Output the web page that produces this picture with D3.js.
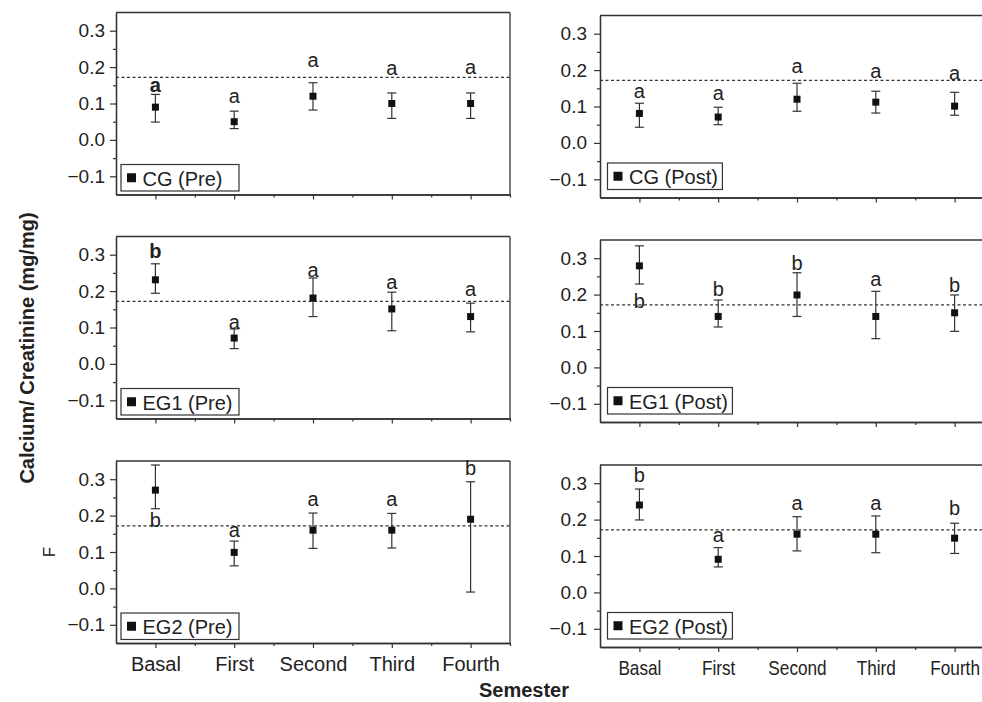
<!DOCTYPE html>
<html><head><meta charset="utf-8">
<script src="https://cdn.jsdelivr.net/npm/d3@7"></script>
<style>
html,body{margin:0;padding:0;background:#fff;}
svg{display:block;font-family:"Liberation Sans",Arial,sans-serif;}
</style></head>
<body>
<svg id="chart" width="982" height="702"></svg>
<script>
// ---------- data ----------
const categories = ["Basal", "First", "Second", "Third", "Fourth"];
const yTicks = [-0.1, 0.0, 0.1, 0.2, 0.3];
const yMinorTicks = [-0.15, -0.05, 0.05, 0.15, 0.25];
const referenceValue = 0.172;

const cgPreMean    = [0.090, 0.050, 0.120, 0.100, 0.100];
const cgPreUpper   = [0.125, 0.079, 0.157, 0.129, 0.129];
const cgPreLower   = [0.049, 0.031, 0.082, 0.059, 0.059];
const cgPreLetter  = ["a", "a", "a", "a", "a"];
const cgPreLetterAt= [0.132, 0.102, 0.199, 0.177, 0.181];

const cgPostMean    = [0.081, 0.071, 0.120, 0.112, 0.101];
const cgPostUpper   = [0.109, 0.098, 0.164, 0.142, 0.139];
const cgPostLower   = [0.043, 0.050, 0.087, 0.082, 0.076];
const cgPostLetter  = ["a", "a", "a", "a", "a"];
const cgPostLetterAt= [0.124, 0.119, 0.191, 0.179, 0.172];

const eg1PreMean    = [0.231, 0.071, 0.181, 0.151, 0.130];
const eg1PreUpper   = [0.275, 0.096, 0.236, 0.197, 0.167];
const eg1PreLower   = [0.194, 0.042, 0.130, 0.091, 0.088];
const eg1PreLetter  = ["b", "a", "a", "a", "a"];
const eg1PreLetterAt= [0.291, 0.097, 0.238, 0.205, 0.187];

const eg1PostMean    = [0.279, 0.140, 0.199, 0.140, 0.150];
const eg1PostUpper   = [0.334, 0.185, 0.260, 0.209, 0.199];
const eg1PostLower   = [0.229, 0.111, 0.140, 0.079, 0.099];
const eg1PostLetter  = ["b", "b", "b", "a", "b"];
const eg1PostLetterAt= [0.162, 0.196, 0.267, 0.224, 0.207];

const eg2PreMean    = [0.270, 0.099, 0.160, 0.160, 0.190];
const eg2PreUpper   = [0.339, 0.130, 0.207, 0.206, 0.293];
const eg2PreLower   = [0.219, 0.062, 0.110, 0.111, -0.010];
const eg2PreLetter  = ["b", "a", "a", "a", "b"];
const eg2PreLetterAt= [0.169, 0.140, 0.226, 0.226, 0.311];

const eg2PostMean    = [0.240, 0.091, 0.160, 0.160, 0.149];
const eg2PostUpper   = [0.284, 0.123, 0.208, 0.210, 0.190];
const eg2PostLower   = [0.199, 0.070, 0.114, 0.109, 0.107];
const eg2PostLetter  = ["b", "a", "a", "a", "b"];
const eg2PostLetterAt= [0.304, 0.139, 0.227, 0.227, 0.213];

const panelNames = ["CG (Pre)", "CG (Post)", "EG1 (Pre)", "EG1 (Post)", "EG2 (Pre)", "EG2 (Post)"];
const boldLetter = [[0], [], [0], [], [], []]; // letters printed heavier in the original

// ---------- layout ----------
const svg = d3.select("#chart");
const TXT = "#222", AX = "#333";
const colX = [[116, 510], [600, 994]];
const rowTops = [[12.5, 236.5, 461], [15.5, 240, 465]];
const panelH = 182;
const colTextScale = [1, 0.86];

const panels = [
  {name: panelNames[0], mean: cgPreMean, up: cgPreUpper, lo: cgPreLower, let: cgPreLetter, letAt: cgPreLetterAt},
  {name: panelNames[1], mean: cgPostMean, up: cgPostUpper, lo: cgPostLower, let: cgPostLetter, letAt: cgPostLetterAt},
  {name: panelNames[2], mean: eg1PreMean, up: eg1PreUpper, lo: eg1PreLower, let: eg1PreLetter, letAt: eg1PreLetterAt},
  {name: panelNames[3], mean: eg1PostMean, up: eg1PostUpper, lo: eg1PostLower, let: eg1PostLetter, letAt: eg1PostLetterAt},
  {name: panelNames[4], mean: eg2PreMean, up: eg2PreUpper, lo: eg2PreLower, let: eg2PreLetter, letAt: eg2PreLetterAt},
  {name: panelNames[5], mean: eg2PostMean, up: eg2PostUpper, lo: eg2PostLower, let: eg2PostLetter, letAt: eg2PostLetterAt}
];

panels.forEach((p, i) => {
  const col = i % 2, row = Math.floor(i / 2);
  const [x0, x1] = colX[col];
  const top = rowTops[col][row], bottom = top + panelH;
  const x = d3.scaleLinear().domain([0.5, 5.5]).range([x0, x1]);
  const y = d3.scaleLinear().domain([-0.15, 0.35]).range([bottom, top]);
  const g = svg.append("g");

  // frame: top and right
  g.append("line").attr("x1", x0).attr("x2", x1).attr("y1", top).attr("y2", top)
    .attr("stroke", AX).attr("stroke-width", 1.3);
  g.append("line").attr("x1", x1).attr("x2", x1).attr("y1", top).attr("y2", bottom)
    .attr("stroke", AX).attr("stroke-width", 1.3);

  // y axis
  const yAx = g.append("g").attr("transform", `translate(${x0},0)`)
    .call(d3.axisLeft(y).tickValues(yTicks).tickSize(6).tickPadding(col === 0 ? 5 : 7)
      .tickSizeOuter(0).tickFormat(d3.format(".1f")));
  const yMinor = g.append("g").attr("transform", `translate(${x0},0)`)
    .call(d3.axisLeft(y).tickValues(yMinorTicks.slice(1)).tickSize(3).tickSizeOuter(0).tickFormat(""));
  // x axis
  const catPos = categories.map((c, k) => k + 1);
  const xAx = g.append("g").attr("transform", `translate(0,${bottom})`)
    .call(d3.axisBottom(x).tickValues(catPos).tickSize(5).tickPadding(9).tickSizeOuter(0)
      .tickFormat((d, k) => row === 2 ? categories[k] : ""));
  const xMinor = g.append("g").attr("transform", `translate(0,${bottom})`)
    .call(d3.axisBottom(x).tickValues(catPos.map(v => v + 0.5)).tickSize(3).tickSizeOuter(0).tickFormat(""));

  [yAx, yMinor, xAx, xMinor].forEach(a => {
    a.select(".domain").attr("stroke", AX).attr("stroke-width", 1.3);
    a.selectAll(".tick line").attr("stroke", AX).attr("stroke-width", 1.2);
  });
  yAx.selectAll(".tick text").attr("font-size", 19).attr("fill", TXT)
    .attr("font-family", "Liberation Sans, Arial, sans-serif");
  xAx.selectAll(".tick text").attr("font-size", 20).attr("fill", TXT)
    .attr("font-family", "Liberation Sans, Arial, sans-serif")
    .attr("transform", `scale(${colTextScale[col]},1)`);

  // reference dashed line
  g.append("line").attr("x1", x0).attr("x2", x1)
    .attr("y1", y(referenceValue)).attr("y2", y(referenceValue))
    .attr("stroke", "#333").attr("stroke-width", 1.2).attr("stroke-dasharray", "3,2.5");

  // error bars, means, letters
  const cap = 4.5;
  categories.forEach((c, k) => {
    const cx = x(k + 1);
    g.append("line").attr("x1", cx).attr("x2", cx).attr("y1", y(p.up[k])).attr("y2", y(p.lo[k]))
      .attr("stroke", AX).attr("stroke-width", 1.2);
    [p.up[k], p.lo[k]].forEach(v => {
      g.append("line").attr("x1", cx - cap).attr("x2", cx + cap).attr("y1", y(v)).attr("y2", y(v))
        .attr("stroke", AX).attr("stroke-width", 1.2);
    });
    g.append("rect").attr("x", cx - 3.5).attr("y", y(p.mean[k]) - 3.5)
      .attr("width", 7).attr("height", 7).attr("fill", "#111");
    g.append("text").attr("x", cx).attr("y", y(p.letAt[k]))
      .attr("text-anchor", "middle").attr("font-size", 20).attr("fill", TXT)
      .attr("font-weight", boldLetter[i].includes(k) ? "bold" : "normal")
      .text(p.let[k]);
  });

  // legend
  const lgX = col === 0 ? x0 + 5 : x0 + 7.5;
  const lgBottom = col === 0 ? bottom - 3.5 : bottom - 8;
  const lg = g.append("g");
  const rect = lg.append("rect").attr("x", lgX).attr("y", lgBottom - 26.5).attr("height", 26.5)
    .attr("fill", "#fff").attr("stroke", AX).attr("stroke-width", 1.2);
  lg.append("rect").attr("x", lgX + 6).attr("y", lgBottom - 13.25 - 4.5).attr("width", 9).attr("height", 9)
    .attr("fill", "#111");
  const t = lg.append("text").attr("x", lgX + 21.5).attr("y", lgBottom - 5.5)
    .attr("font-size", 20).attr("fill", TXT).text(p.name);
  const tw = t.node().getComputedTextLength();
  rect.attr("width", Math.max(col === 0 ? 118 : 0, tw + 26));
});

// axis titles
svg.append("text").attr("transform", "translate(34,348) rotate(-90)")
  .attr("text-anchor", "middle").attr("font-size", 20).attr("font-weight", "bold").attr("fill", TXT)
  .text("Calcium/ Creatinine (mg/mg)");
svg.append("text").attr("transform", "translate(55,552) rotate(-90)")
  .attr("text-anchor", "middle").attr("font-size", 17).attr("fill", TXT).text("F");
svg.append("text").attr("x", 524).attr("y", 697)
  .attr("text-anchor", "middle").attr("font-size", 20).attr("font-weight", "bold").attr("fill", TXT)
  .text("Semester");
</script>
</body></html>
